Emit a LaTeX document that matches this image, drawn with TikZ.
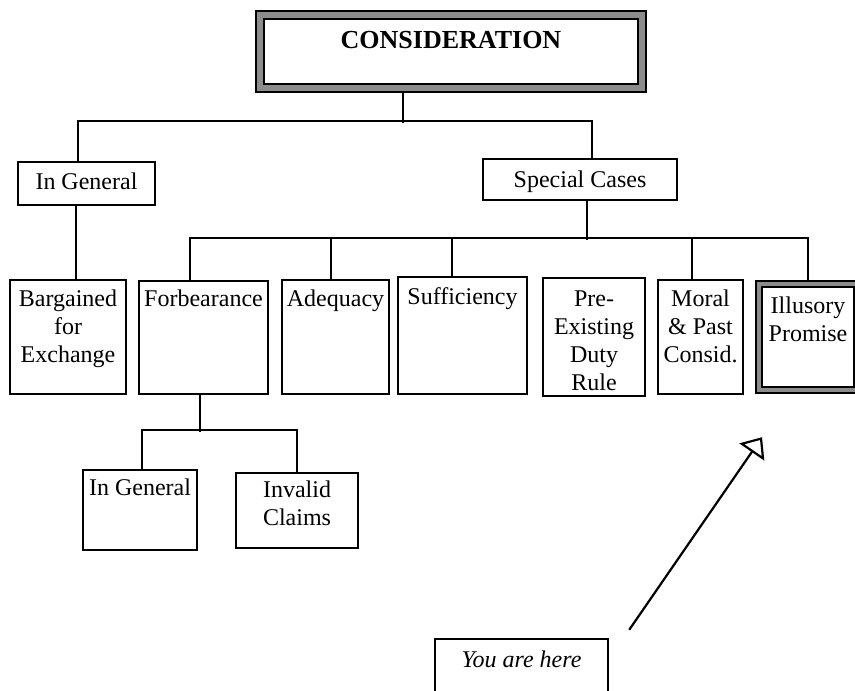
\documentclass[tikz,border=0pt]{standalone}
\usepackage{fontspec}
\setmainfont{Liberation Serif}
\usetikzlibrary{calc,arrows.meta}
\pgfdeclarelayer{background}
\pgfsetlayers{background,main}
\newcommand\tb[4]{\parbox[c][\dimexpr #2pt/2\relax][t]{\dimexpr #1pt/2\relax}{\centering\vspace*{\dimexpr #3pt/2-\ht\strutbox\relax}\strut #4\par}}
\begin{document}
\begin{tikzpicture}[x=0.5pt,y=-0.5pt,
  box/.style={draw=black, line width=1.2pt, fill=white, inner sep=0pt, font=\fontsize{12}{14}\selectfont},
  framed/.style={box, double=black!45, double distance=2.6pt},
  framedthin/.style={box, double=black!45, double distance=1.6pt},
  wire/.style={line width=1.3pt},
  pointer/.style={line width=1.1pt, -{Triangle[open, length=9pt, width=15pt, line width=1.1pt]}}]
\useasboundingbox (0,0) rectangle (855,690);

\node[framed, font=\bfseries\fontsize{13}{15}\selectfont] (cons) at (451,51.5) {\tb{382}{73}{34}{CONSIDERATION}};
\node[box] (ig1) at (86.5,183.5) {\tb{137}{43}{27}{In General}};
\node[box] (sc) at (580,179.5) {\tb{194}{41}{28}{Special Cases}};
\node[box] (bar) at (68,337) {\tb{116}{114}{26}{Bargained\\for\\Exchange}};
\node[box] (forb) at (203.5,337.5) {\tb{129}{113}{25}{Forbearance}};
\node[box] (adeq) at (335.5,337) {\tb{107}{114}{26}{Adequacy}};
\node[box] (suff) at (462.5,335.5) {\tb{129}{117}{27}{Sufficiency}};
\node[box] (pre) at (594,337) {\tb{102}{118}{28}{Pre-\\Existing\\Duty\\Rule}};
\node[box] (moral) at (700.5,337) {\tb{85}{114}{26}{Moral\\\&~Past\\Consid.}};
\node[framedthin] (ill) at (808,337) {\tb{98}{106}{29}{Illusory\\Promise}};
\node[box] (ig2) at (140,510) {\tb{114}{80}{25}{In General}};
\node[box] (inv) at (297,510.5) {\tb{122}{75}{24}{Invalid\\Claims}};
\node[box, font=\itshape\fontsize{12}{14}\selectfont] (you) at (521.5,679.5) {\tb{173}{81}{28}{You are here}};

\begin{pgfonlayer}{background}
\draw[wire] ($(cons.south)+(-48,0)$) -- ++(0,34);
\draw[wire] ($(ig1.north)+(-8.5,0)$) |- ($(sc.north)+(12,-37)$) -- ($(sc.north)+(12,0)$);
\draw[wire] ($(ig1.south)+(-10.5,0)$) -- ($(bar.north)+(8,0)$);
\draw[wire] ($(sc.south)+(7,0)$) -- ++(0,39);
\draw[wire] ($(forb.north)+(-13.5,0)$) |- ($(ill.north)+(0,-45)$) -- (ill.north);
\draw[wire] ($(adeq.north)+(-4.5,0)$) -- ++(0,-41);
\draw[wire] ($(suff.north)+(-10.5,0)$) -- ++(0,-38);
\draw[wire] ($(moral.north)+(-8.5,0)$) -- ++(0,-41);
\draw[wire] ($(forb.south)+(-3.5,0)$) -- ++(0,37);
\draw[wire] ($(ig2.north)+(2,0)$) |- ($(inv.north)+(0,-42)$) -- (inv.north);
\end{pgfonlayer}
\draw[pointer] ($(you.north east)+(20,-8)$) -- ($(ill.south)+(-46,46)$);
\end{tikzpicture}
\end{document}
